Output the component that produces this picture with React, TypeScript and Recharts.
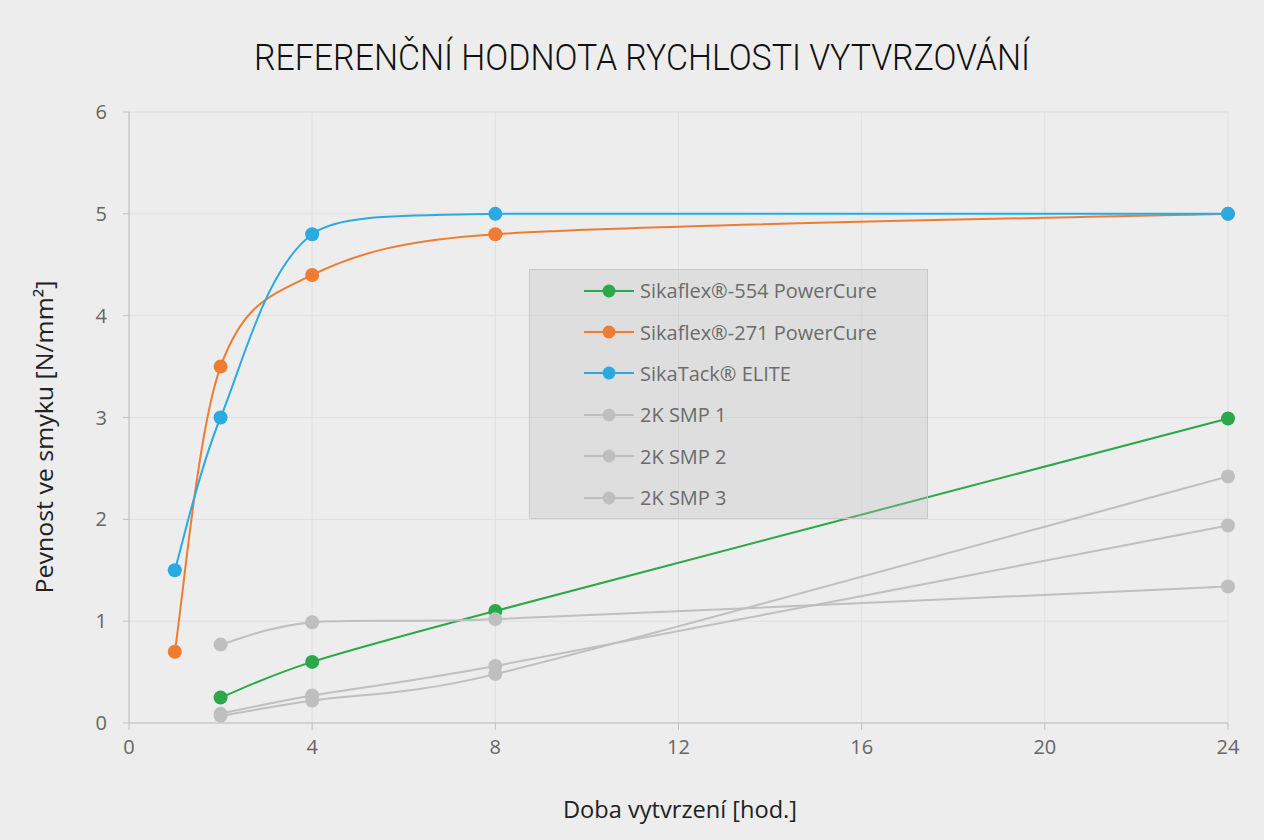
import { LineChart, Line, XAxis, YAxis, CartesianGrid } from 'recharts'

// Doba vytvrzení [hod.]
const hours = [1, 2, 4, 8, 24]

// Pevnost ve smyku [N/mm²]
const sika554 = [null, 0.25, 0.6, 1.1, 2.99]
const sika271 = [0.7, 3.5, 4.4, 4.8, 5.0]
const sikaTack = [1.5, 3.0, 4.8, 5.0, 5.0]
const smp1 = [null, 0.77, 0.99, 1.02, 1.34]
const smp2 = [null, 0.09, 0.27, 0.56, 1.94]
const smp3 = [null, 0.07, 0.22, 0.48, 2.42]

const xTicks = [0, 4, 8, 12, 16, 20, 24]
const yTicks = [0, 1, 2, 3, 4, 5, 6]

const series = [
  { key: 's554', name: 'Sikaflex®-554 PowerCure', values: sika554, color: '#2aa84a' },
  { key: 's271', name: 'Sikaflex®-271 PowerCure', values: sika271, color: '#ef7d31' },
  { key: 'tack', name: 'SikaTack® ELITE', values: sikaTack, color: '#29abe2' },
  { key: 'smp1', name: '2K SMP 1', values: smp1, color: '#bfbfbf' },
  { key: 'smp2', name: '2K SMP 2', values: smp2, color: '#bfbfbf' },
  { key: 'smp3', name: '2K SMP 3', values: smp3, color: '#bfbfbf' },
]

const data = hours.map((h, i) => {
  const row: Record<string, number | null> = { h }
  series.forEach(s => { row[s.key] = s.values[i] })
  return row
})

const FONT = '"Open Sans", sans-serif'

type Pt = [number, number]
const dist = (a: Pt, b: Pt) => Math.hypot(b[0] - a[0], b[1] - a[1])

// keep a control point inside the segment's vertical range (no overshoot)
function clampY(from: Pt, v: Pt, yA: number, yB: number): Pt {
  const lo = Math.min(yA, yB)
  const hi = Math.max(yA, yB)
  const y = from[1] + v[1]
  let s = 1
  if (v[1] !== 0 && y < lo) s = (lo - from[1]) / v[1]
  if (v[1] !== 0 && y > hi) s = (hi - from[1]) / v[1]
  s = Math.max(0, Math.min(1, s))
  return [v[0] * s, v[1] * s]
}

// Excel-like smoothed line
function excelSmooth(context: any) {
  let pts: Pt[] = []
  return {
    areaStart() {},
    areaEnd() {},
    lineStart() { pts = [] },
    lineEnd() {
      const n = pts.length
      if (!n) return
      context.moveTo(pts[0][0], pts[0][1])
      for (let i = 0; i < n - 1; i++) {
        const p0 = pts[Math.max(i - 1, 0)]
        const p1 = pts[i]
        const p2 = pts[i + 1]
        const p3 = pts[Math.min(i + 2, n - 1)]
        const d12 = dist(p1, p2)
        const d02 = dist(p0, p2)
        const d13 = dist(p1, p3)
        const f1 = d02 / 6 < d12 / 2 ? 1 / 6 : d12 / (2 * d02)
        const f2 = d13 / 6 < d12 / 2 ? 1 / 6 : d12 / (2 * d13)
        const v1 = clampY(p1, [(p2[0] - p0[0]) * f1, (p2[1] - p0[1]) * f1], p1[1], p2[1])
        const v2 = clampY(p2, [-(p3[0] - p1[0]) * f2, -(p3[1] - p1[1]) * f2], p1[1], p2[1])
        context.bezierCurveTo(
          p1[0] + v1[0], p1[1] + v1[1],
          p2[0] + v2[0], p2[1] + v2[1],
          p2[0], p2[1],
        )
      }
    },
    point(x: number, y: number) { pts.push([+x, +y]) },
  }
}

function LegendBox() {
  return (
    <div style={{
      position: 'absolute', left: 529, top: 269,
      width: 399, height: 250, boxSizing: 'border-box',
      background: 'rgba(190,190,190,0.3)', border: '1px solid #c9c9c9',
    }}>
      {series.map(s => (
        <div key={s.key} style={{ display: 'flex', alignItems: 'center', height: 41.4, paddingLeft: 54 }}>
          <svg width={52} height={16} style={{ marginRight: 4 }}>
            <line x1={0} y1={8} x2={50} y2={8} stroke={s.color} strokeWidth={2} />
            <circle cx={25} cy={8} r={6.5} fill={s.color} />
          </svg>
          <span style={{ fontFamily: FONT, fontSize: 20, color: '#6b6b6b' }}>{s.name}</span>
        </div>
      ))}
    </div>
  )
}

export default function App() {
  return (
    <div style={{ position: 'relative', width: 1264, height: 840, background: '#ededed' }}>
      <style>{'body{margin:0}'}</style>
      <LineChart width={1264} height={840} data={data} margin={{ top: 112, right: 36, left: 0, bottom: 0 }}>
        <CartesianGrid stroke="#dfdfdf" strokeWidth={1} />
        <XAxis
          dataKey="h"
          type="number"
          domain={[0, 24]}
          ticks={xTicks}
          height={117}
          stroke="#bfbfbf"
          tickSize={7}
          tickMargin={10}
          tick={{ fontFamily: FONT, fontSize: 20, fill: '#666' }}
        />
        <YAxis
          type="number"
          domain={[0, 6]}
          ticks={yTicks}
          width={129}
          stroke="#bfbfbf"
          tickSize={6}
          tickMargin={16}
          tick={{ fontFamily: FONT, fontSize: 20, fill: '#666' }}
        />
        {series.map(s => (
          <Line
            key={s.key}
            dataKey={s.key}
            name={s.name}
            type={excelSmooth as any}
            stroke={s.color}
            strokeWidth={2}
            dot={{ r: 7, fill: s.color, stroke: 'none' }}
            activeDot={false}
            isAnimationActive={false}
          />
        ))}
      </LineChart>
      <LegendBox />
      <svg width={1264} height={840} style={{ position: 'absolute', left: 0, top: 0, pointerEvents: 'none' }}>
        <text x={642} y={70} textAnchor="middle" fontFamily="Roboto, sans-serif" fontWeight={300}
          fontSize={37} fill="#111" textLength={776} lengthAdjust="spacingAndGlyphs">
          REFERENČNÍ HODNOTA RYCHLOSTI VYTVRZOVÁNÍ
        </text>
        <text x={680} y={818} textAnchor="middle" fontFamily={FONT} fontSize={24} fill="#222"
          textLength={234} lengthAdjust="spacingAndGlyphs">
          Doba vytvrzení [hod.]
        </text>
        <text x={53} y={437} textAnchor="middle" fontFamily={FONT} fontSize={24} fill="#222"
          textLength={313} lengthAdjust="spacingAndGlyphs" transform="rotate(-90 53 437)">
          Pevnost ve smyku [N/mm²]
        </text>
      </svg>
    </div>
  )
}
